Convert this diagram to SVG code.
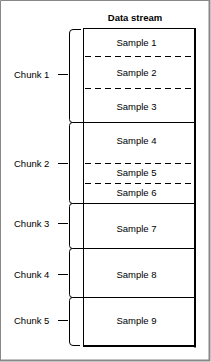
<svg xmlns="http://www.w3.org/2000/svg" width="211" height="362" viewBox="0 0 211 362">
<style>
text{font-family:"Liberation Sans",Arial,sans-serif;font-size:9.5px;fill:#000}
.title{font-weight:bold}
.s{text-anchor:middle}
.ln{stroke:#000;stroke-width:1;fill:none}
.dash{stroke:#000;stroke-width:1;stroke-dasharray:6 4;fill:none}
.frame{stroke:#888;fill:none}
</style>
<rect width="211" height="362" fill="#fff"/>
<g id="frame">
<path class="frame" d="M0.5 361V0.5H210" stroke-width="1"/>
<path class="frame" d="M209.5 0V360.5H0" stroke-width="2"/>
</g>
<text class="title s" x="135" y="20.5">Data stream</text>
<g id="stream">
<path class="ln" d="M83.5 28.5V346M83 28.5H196"/>
<path d="M195 28V347.5M83 346H196" stroke="#000" stroke-width="2" fill="none"/>
<path class="ln" d="M83 122.5H195M83 203.5H195M83 248.5H195M83 297.5H195"/>
<path class="dash" d="M85 56.5H193M85 88.5H193M85 163.5H193M85 183.5H193"/>
</g>
<g id="sample1"><text class="s" x="136.5" y="46">Sample 1</text></g>
<g id="sample2"><text class="s" x="136.5" y="75.5">Sample 2</text></g>
<g id="sample3"><text class="s" x="136.5" y="110">Sample 3</text></g>
<g id="sample4"><text class="s" x="136.5" y="143.5">Sample 4</text></g>
<g id="sample5"><text class="s" x="136.5" y="176">Sample 5</text></g>
<g id="sample6"><text class="s" x="136.5" y="196">Sample 6</text></g>
<g id="sample7"><text class="s" x="136.5" y="231.5">Sample 7</text></g>
<g id="sample8"><text class="s" x="136.5" y="277.5">Sample 8</text></g>
<g id="sample9"><text class="s" x="136.5" y="323.5">Sample 9</text></g>
<g id="connectors">
<path class="ln" d="M81 29.5H73Q69.5 29.5 69.5 33V119.5Q69.5 122.5 72.5 122.5Q69.5 122.5 69.5 125.5V200.5Q69.5 203.5 72.5 203.5Q69.5 203.5 69.5 206.5V245.5Q69.5 248.5 72.5 248.5Q69.5 248.5 69.5 251.5V294.5Q69.5 297.5 72.5 297.5Q69.5 297.5 69.5 300.5V342Q69.5 345.5 73 345.5H80"/>
<path class="ln" d="M72.5 122.5H83M72.5 203.5H83M72.5 248.5H83M72.5 297.5H83"/>
<path class="ln" d="M58 74.5H68M58 163.5H68M58 223.5H68M58 274.5H68M58 320.5H68"/>
</g>
<g id="chunk1"><text x="14" y="77.5">Chunk 1</text></g>
<g id="chunk2"><text x="14" y="167">Chunk 2</text></g>
<g id="chunk3"><text x="14" y="227">Chunk 3</text></g>
<g id="chunk4"><text x="14" y="278">Chunk 4</text></g>
<g id="chunk5"><text x="14" y="324">Chunk 5</text></g>
</svg>
